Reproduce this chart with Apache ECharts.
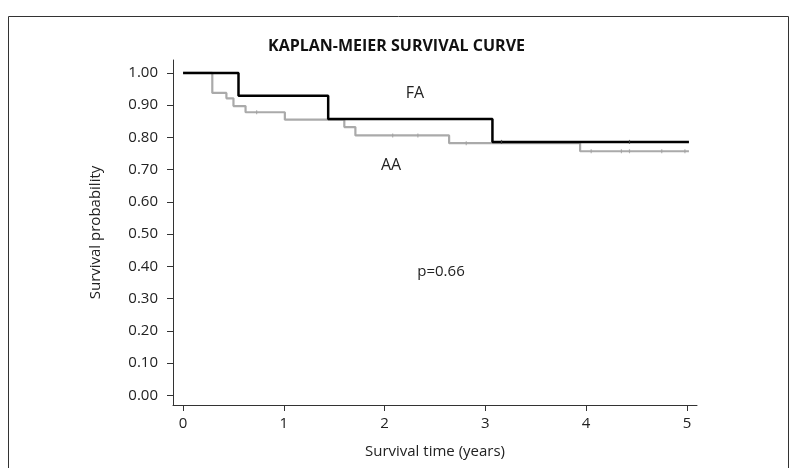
<!DOCTYPE html>
<html>
<head>
<meta charset="utf-8">
<script src="https://cdn.jsdelivr.net/npm/echarts@6/dist/echarts.min.js"></script>
<style>
  html, body { margin: 0; padding: 0; background: #fff; }
  #chart { width: 793px; height: 468px; }
</style>
</head>
<body>
<div id="chart"></div>
<script>
// survival steps (time in years, survival probability after the step)
const faTimes = [0, 0.55, 1.44, 3.07, 5.02]
const faSurv = [1.0, 0.929, 0.857, 0.786, 0.786]
const aaTimes = [0, 0.29, 0.43, 0.50, 0.62, 1.01, 1.60, 1.71, 2.64, 3.94, 5.02]
const aaSurv = [1.0, 0.938, 0.921, 0.897, 0.878, 0.855, 0.832, 0.806, 0.782, 0.757, 0.757]
// censored observations
const faCensorTimes = [3.16, 4.43]
const faCensorSurv = [0.786, 0.786]
const aaCensorTimes = [0.73, 2.08, 2.33, 2.81, 4.05, 4.35, 4.43, 4.75, 4.98]
const aaCensorSurv = [0.878, 0.806, 0.806, 0.782, 0.757, 0.757, 0.757, 0.757, 0.757]

const xTicks = [0, 1, 2, 3, 4, 5]
const yTicks = [0, 0.1, 0.2, 0.3, 0.4, 0.5, 0.6, 0.7, 0.8, 0.9, 1.0]

const font = 'Open Sans'
const zip = (a, b) => a.map((v, i) => [v, b[i]])

let chart = echarts.init(document.getElementById('chart'))
chart.setOption({
  animation: false,
  title: {
    text: 'KAPLAN-MEIER SURVIVAL CURVE',
    left: 'center',
    top: 33,
    textStyle: { fontFamily: font, fontSize: 16, fontWeight: 'bold', color: '#111' }
  },
  grid: { left: 173, right: 96, top: 60, bottom: 63 },
  xAxis: {
    type: 'value',
    min: -0.1,
    max: 5.1,
    name: 'Survival time (years)',
    nameLocation: 'middle',
    nameGap: 39,
    nameTextStyle: { fontFamily: font, fontSize: 15, color: '#222' },
    splitLine: { show: false },
    axisLine: { onZero: false, lineStyle: { color: '#333', width: 1 } },
    axisTick: { customValues: xTicks, length: 6, lineStyle: { color: '#333' } },
    axisLabel: { customValues: xTicks, margin: 11, fontFamily: font, fontSize: 15, color: '#222' }
  },
  yAxis: {
    type: 'value',
    min: -0.03,
    max: 1.04,
    name: 'Survival probability',
    nameLocation: 'middle',
    nameRotate: 90,
    nameGap: 70,
    nameTextStyle: { fontFamily: font, fontSize: 15, color: '#222' },
    splitLine: { show: false },
    axisLine: { show: true, onZero: false, lineStyle: { color: '#333', width: 1 } },
    axisTick: { show: true, customValues: yTicks, length: 6, lineStyle: { color: '#333' } },
    axisLabel: {
      customValues: yTicks,
      margin: 15,
      fontFamily: font,
      fontSize: 15,
      color: '#222',
      formatter: v => v.toFixed(2)
    }
  },
  series: [
    {
      name: 'AA',
      type: 'line',
      step: 'end',
      symbol: 'none',
      data: zip(aaTimes, aaSurv),
      lineStyle: { color: '#aaaaaa', width: 2.2 },
      z: 2
    },
    {
      name: 'AA censored',
      type: 'scatter',
      symbol: 'rect',
      symbolSize: [1.2, 4],
      data: zip(aaCensorTimes, aaCensorSurv),
      itemStyle: { color: '#a0a0a0' },
      z: 2
    },
    {
      name: 'FA',
      type: 'line',
      step: 'end',
      symbol: 'none',
      data: zip(faTimes, faSurv),
      lineStyle: { color: '#000000', width: 2.5 },
      z: 3
    },
    {
      name: 'FA censored',
      type: 'scatter',
      symbol: 'rect',
      symbolSize: [1.2, 4],
      data: zip(faCensorTimes, faCensorSurv),
      itemStyle: { color: '#444444' },
      z: 3
    }
  ],
  graphic: [
    {
      type: 'rect',
      shape: { x: 8.5, y: 16.5, width: 780, height: 470 },
      style: { fill: 'none', stroke: '#333', lineWidth: 1 },
      silent: true
    },
    { type: 'text', x: 415, y: 93, style: { text: 'FA', font: '16px "Open Sans"', fill: '#222', align: 'center', verticalAlign: 'middle' } },
    { type: 'text', x: 391, y: 165, style: { text: 'AA', font: '16px "Open Sans"', fill: '#222', align: 'center', verticalAlign: 'middle' } },
    { type: 'text', x: 441, y: 272, style: { text: 'p=0.66', font: '15px "Open Sans"', fill: '#222', align: 'center', verticalAlign: 'middle' } }
  ]
})
</script>
</body>
</html>
